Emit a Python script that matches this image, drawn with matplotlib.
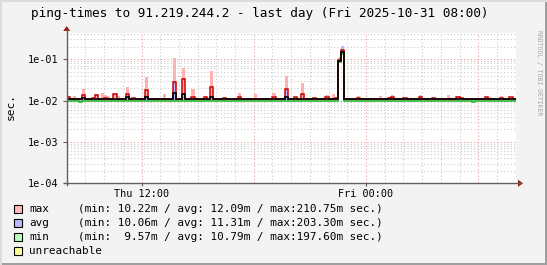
import numpy as np
import matplotlib
matplotlib.use("Agg")
import matplotlib.pyplot as plt
from matplotlib.lines import Line2D
from matplotlib.patches import Rectangle, Polygon

W, H = 547, 265

# 10-minute bins over the last day (Thu 08:00 -> Fri 08:00)
n_bins = 144
hours_span = 24

base_min = 0.0097
base_avg = 0.0106
base_red = 0.0109
base_max = 0.0113

max_bins = [0, 2, 5, 9, 11, 12, 13, 15, 16, 19, 25, 31, 34, 37, 40, 44, 46, 55, 60, 66,
            70, 75, 83, 85, 87, 88, 93, 100, 103, 104, 113, 122, 125, 135, 139]
max_vals = [0.0132, 0.0128, 0.019, 0.0145, 0.015, 0.0135, 0.013, 0.0145, 0.0128, 0.021,
            0.037, 0.014, 0.104, 0.06, 0.019, 0.013, 0.053, 0.015, 0.014, 0.015,
            0.040, 0.026, 0.0135, 0.014, 0.11, 0.2107, 0.013, 0.013, 0.0125, 0.0135,
            0.0135, 0.0135, 0.0132, 0.0122, 0.013]

red_bins = [0, 5, 8, 9, 12, 15, 19, 21, 25, 34, 37, 40, 44, 46, 50, 55, 66, 70, 73, 75,
            79, 83, 86, 87, 88, 93, 103, 104, 108, 113, 117, 125, 126, 134, 139, 142]
red_vals = [0.0122, 0.0135, 0.0118, 0.0135, 0.0118, 0.014, 0.014, 0.0115, 0.0175, 0.028,
            0.033, 0.0125, 0.012, 0.021, 0.0115, 0.012, 0.012, 0.019, 0.0122, 0.014,
            0.0115, 0.012, 0.0118, 0.095, 0.17, 0.0118, 0.0115, 0.0125, 0.0118, 0.0125,
            0.0118, 0.0125, 0.0118, 0.0125, 0.0118, 0.0125]

avg_bins = [5, 19, 25, 34, 37, 46, 70, 87, 88]
avg_vals = [0.0115, 0.0125, 0.012, 0.015, 0.0145, 0.0125, 0.0125, 0.09, 0.15]

blue_bins = [19, 34, 70, 88]
blue_vals = [0.0135, 0.03, 0.018, 0.2033]

min_bins = [4, 87, 88, 130]
min_vals = [0.0092, 0.085, 0.135, 0.0090]

x_tick_hours = [4, 16]
x_tick_labels = ["Thu 12:00", "Fri 00:00"]
y_ticks = [1e-4, 1e-3, 1e-2, 1e-1]
y_tick_labels = ["1e-04", "1e-03", "1e-02", "1e-01"]

legend_names = ["max", "avg", "min", "unreachable"]
legend_colors = ["#FFBBBB", "#BBBBFF", "#BBFFBB", "#FFFF99"]
legend_stats = [
    "(min: 10.22m / avg: 12.09m / max:210.75m sec.)",
    "(min: 10.06m / avg: 11.31m / max:203.30m sec.)",
    "(min:  9.57m / avg: 10.79m / max:197.60m sec.)",
    "",
]


def build(base, bins, vals):
    arr = np.full(n_bins, base)
    arr[bins] = vals
    return arr


s_max = build(base_max, max_bins, max_vals)
s_red = build(base_red, red_bins, red_vals)
s_avg = build(base_avg, avg_bins, avg_vals)
s_min = build(base_min, min_bins, min_vals)
s_blue = s_avg.copy()
s_blue[blue_bins] = blue_vals
edges = np.linspace(0, hours_span, n_bins + 1)

mono = "DejaVu Sans Mono"
plt.rcParams["font.family"] = mono

fig = plt.figure(figsize=(W / 100, H / 100), dpi=100, facecolor="#F3F3F3")


def fx(x):
    return x / W


def fy(y):
    return 1 - y / H


left, right, top, bottom = 66.7, 515.7, 32.5, 183.3
ax = fig.add_axes([fx(left), fy(bottom), (right - left) / W, (bottom - top) / H])
ax.set_facecolor("white")
ax.set_yscale("log")
ax.set_xlim(0, hours_span)
ax.set_ylim(1e-4, 0.44)
for sp in ax.spines.values():
    sp.set_visible(False)

# grid
dot = (0, (1, 2))
for h in range(1, hours_span):
    major = (h - 4) % 6 == 0
    ax.axvline(h, color="#E8A0A0" if major else "#CCCCCC", lw=0.8, ls=dot, zorder=1)
for d in range(-4, 0):
    for k in range(2, 10):
        v = k * 10.0 ** d
        if v < 0.44:
            ax.axhline(v, color="#CCCCCC", lw=0.8, ls=dot, zorder=1)
for v in y_ticks[1:]:
    ax.axhline(v, color="#E8A0A0", lw=0.8, ls=dot, zorder=1)

# data
ax.stairs(s_max, edges, baseline=s_min, fill=True, color="#FFB0B0", lw=0, zorder=2)
ax.stairs(s_blue, edges, baseline=s_min, fill=True, color="#B4B4FF", lw=0, zorder=3)
ax.stairs(s_min, edges, baseline=None, color="#22BB22", lw=1.1, zorder=4)
ax.stairs(s_red, edges, baseline=None, color="#CC0000", lw=1.1, zorder=5)
ax.stairs(s_avg, edges, baseline=None, color="#000000", lw=1.2, zorder=6)

ax.set_xticks(x_tick_hours)
ax.set_xticklabels(x_tick_labels)
ax.set_yticks(y_ticks)
ax.set_yticklabels(y_tick_labels)
ax.yaxis.set_minor_locator(matplotlib.ticker.NullLocator())
ax.tick_params(axis="both", labelsize=7.3, colors="#606060", labelcolor="#000000",
               length=3, width=0.8, direction="out")
ax.tick_params(axis="y", pad=3)
ax.tick_params(axis="x", pad=2, length=2)

# axis lines with arrows
ax_col = "#606060"
arr_col = "#A01818"
fig.add_artist(Line2D([fx(left), fx(left)], [fy(bottom + 2), fy(30)], color=ax_col, lw=1.0))
fig.add_artist(Line2D([fx(left - 3), fx(520)], [fy(bottom), fy(bottom)], color=ax_col, lw=1.0))
fig.add_artist(Polygon([[fx(left - 3.5), fy(31)], [fx(left + 3.5), fy(31)], [fx(left), fy(26)]],
                       closed=True, color=arr_col, lw=0))
fig.add_artist(Polygon([[fx(518), fy(bottom - 3.5)], [fx(518), fy(bottom + 3.5)], [fx(523), fy(bottom)]],
                       closed=True, color=arr_col, lw=0))

# texts
fig.text(fx(260), fy(13), "ping-times to 91.219.244.2 - last day (Fri 2025-10-31 08:00)",
         ha="center", va="center", fontsize=9.2, color="#000000")
fig.text(fx(11), fy(107), "sec.", rotation=90, ha="center", va="center", fontsize=8.1)
fig.text(fx(538.5), fy(30), "RRDTOOL / TOBI OETIKER", rotation=270, ha="center", va="top",
         fontsize=4.7, color="#A8A8A8")

rows = [209, 223.2, 237.2, 251]
for yy, name, col, stat in zip(rows, legend_names, legend_colors, legend_stats):
    fig.add_artist(Rectangle((fx(14.5), fy(yy + 3.7)), 7.5 / W, 7.5 / H, facecolor=col,
                             edgecolor="#000000", lw=0.8))
    fig.text(fx(29), fy(yy), name, ha="left", va="center", fontsize=7.95)
    if stat:
        fig.text(fx(78), fy(yy), stat, ha="left", va="center", fontsize=7.95)

# 3d frame
fig.add_artist(Rectangle((fx(W - 2.5), 0), 2.5 / W, 1, facecolor="#A0A0A0", lw=0))
fig.add_artist(Rectangle((0, 0), 1, 2.5 / H, facecolor="#A0A0A0", lw=0))
fig.add_artist(Rectangle((0, 0), 2 / W, 1, facecolor="#DCDCDC", lw=0))
fig.add_artist(Rectangle((0, fy(2)), 1, 2 / H, facecolor="#DCDCDC", lw=0))

fig.savefig("out.png", dpi=100, facecolor=fig.get_facecolor())
